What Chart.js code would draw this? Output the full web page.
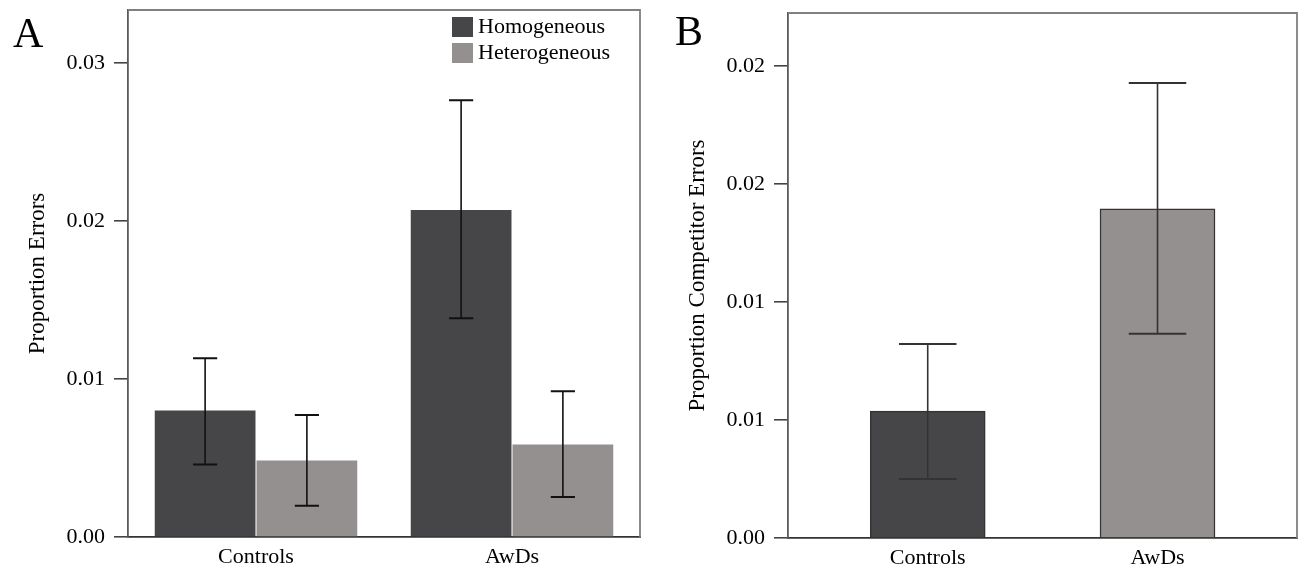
<!DOCTYPE html>
<html>
<head>
<meta charset="utf-8">
<script src="https://cdn.jsdelivr.net/npm/chart.js@4"></script>
<style>
  body { margin: 0; background: #fff; }
  .panel { position: absolute; top: 0; }
</style>
</head>
<body>
<div class="panel" style="left:0"><canvas id="chartA" width="660" height="569"></canvas></div>
<div class="panel" style="left:660px"><canvas id="chartB" width="638" height="569"></canvas></div>
<script>
// --- data, panel A ---
const groups = ['Controls', 'AwDs'];
const homogeneousMean = [0.0080, 0.0207];
const homogeneousLow = [0.00459, 0.01384];
const homogeneousHigh = [0.01131, 0.02764];
const heterogeneousMean = [0.00484, 0.00585];
const heterogeneousLow = [0.00198, 0.00253];
const heterogeneousHigh = [0.00773, 0.00923];
const yTicksA = [0, 0.01, 0.02, 0.03];
const yTickLabelsA = ['0.00', '0.01', '0.02', '0.03'];
const yMaxA = 0.03336;

// --- data, panel B ---
const competitorMean = [0.00538, 0.01395];
const competitorLow = [0.00250, 0.00866];
const competitorHigh = [0.00822, 0.01928];
const yTicksB = [0, 0.005, 0.01, 0.015, 0.02];
const yTickLabelsB = ['0.00', '0.01', '0.01', '0.02', '0.02'];
const yMaxB = 0.02225;
const xMinB = -0.608, xMaxB = 1.607;

const DARK = 'rgb(70,70,72)';
const LIGHT = 'rgb(148,144,143)';
const SERIF = '"Liberation Serif", "Times New Roman", serif';
const tickFont = { family: SERIF, size: 22 };
const titleFont = { family: SERIF, size: 23 };

// error bars drawn from each dataset's low/high arrays
const errorBars = {
    id: 'errorBars',
    afterDatasetsDraw(chart, args, opts) {
        const ctx = chart.ctx;
        const y = chart.scales.y;
        chart.data.datasets.forEach((ds, di) => {
            const meta = chart.getDatasetMeta(di);
            meta.data.forEach((bar, i) => {
                const top = y.getPixelForValue(ds.errHigh[i]);
                const bot = y.getPixelForValue(ds.errLow[i]);
                const half = bar.width * opts.cap / 2;
                ctx.save();
                ctx.strokeStyle = opts.color;
                ctx.lineWidth = 1.6;
                ctx.beginPath();
                ctx.moveTo(bar.x, top); ctx.lineTo(bar.x, bot);
                ctx.stroke();
                ctx.lineWidth = 2;
                ctx.beginPath();
                ctx.moveTo(bar.x - half, top); ctx.lineTo(bar.x + half, top);
                ctx.moveTo(bar.x - half, bot); ctx.lineTo(bar.x + half, bot);
                ctx.stroke();
                ctx.restore();
            });
        });
    }
};

// top + right box edges and the panel letter
const frame = {
    id: 'frame',
    afterDraw(chart, args, opts) {
        const { left, right, top, bottom } = chart.chartArea;
        const ctx = chart.ctx;
        ctx.save();
        ctx.strokeStyle = '#808080';
        ctx.lineWidth = 1.8;
        ctx.beginPath();
        ctx.moveTo(left, top); ctx.lineTo(right, top); ctx.lineTo(right, bottom);
        ctx.stroke();
        ctx.fillStyle = '#000';
        ctx.font = '42px ' + SERIF;
        ctx.textBaseline = 'alphabetic';
        ctx.fillText(opts.letter, opts.letterX, opts.letterY);
        ctx.restore();
    }
};

// legend inside the plot, top right
const innerLegend = {
    id: 'innerLegend',
    afterDraw(chart) {
        const ctx = chart.ctx;
        const { right, top } = chart.chartArea;
        const x0 = right - 188;
        ctx.save();
        ctx.font = '22px ' + SERIF;
        ctx.textBaseline = 'middle';
        chart.data.datasets.forEach((ds, i) => {
            const y0 = top + 7 + i * 26;
            ctx.fillStyle = ds.backgroundColor;
            ctx.fillRect(x0, y0, 21, 20);
            ctx.fillStyle = '#000';
            ctx.fillText(ds.label, x0 + 26, y0 + 10);
        });
        ctx.restore();
    }
};

function yAxis(ticks, labels, max, title) {
    return {
        min: 0,
        max: max,
        afterBuildTicks: s => { s.ticks = ticks.map(v => ({ value: v })); },
        afterFit: s => { s.width = 128; s.paddingTop = 0; s.paddingBottom = 0; },
        ticks: { callback: (v, i) => labels[i], font: tickFont, color: '#000', padding: 9 },
        grid: { drawOnChartArea: false, drawTicks: true, tickLength: 14, color: '#444', lineWidth: 1.6 },
        border: { color: '#5a5a5a', width: 1.8 },
        title: { display: true, text: title, font: titleFont, color: '#000', padding: { top: 24, bottom: 0 } }
    };
}

// --- Panel A ---
new Chart(document.getElementById('chartA'), {
    type: 'bar',
    data: {
        labels: groups,
        datasets: [
            { label: 'Homogeneous', data: homogeneousMean, errLow: homogeneousLow, errHigh: homogeneousHigh,
              backgroundColor: DARK, categoryPercentage: 0.795, barPercentage: 0.99 },
            { label: 'Heterogeneous', data: heterogeneousMean, errLow: heterogeneousLow, errHigh: heterogeneousHigh,
              backgroundColor: LIGHT, categoryPercentage: 0.795, barPercentage: 0.99 }
        ]
    },
    options: {
        responsive: false,
        animation: false,
        layout: { padding: { left: 0, right: 20, top: 10, bottom: 0 } },
        scales: {
            x: {
                offset: true,
                grid: { display: false, drawTicks: false },
                border: { color: '#333', width: 1.8 },
                ticks: { font: tickFont, color: '#000', padding: 7 },
                afterFit: s => { s.height = 32; }
            },
            y: yAxis(yTicksA, yTickLabelsA, yMaxA, 'Proportion Errors')
        },
        plugins: {
            legend: { display: false },
            tooltip: { enabled: false },
            errorBars: { cap: 0.24, color: '#111' },
            frame: { letter: 'A', letterX: 13, letterY: 47 }
        }
    },
    plugins: [errorBars, frame, innerLegend]
});

// --- Panel B ---
new Chart(document.getElementById('chartB'), {
    type: 'bar',
    data: {
        datasets: [
            { label: 'Competitor', data: competitorMean.map((v, i) => ({ x: i, y: v })),
              errLow: competitorLow, errHigh: competitorHigh,
              backgroundColor: [DARK, LIGHT], borderColor: '#333', borderWidth: 1.5,
              barThickness: 115 }
        ]
    },
    options: {
        responsive: false,
        animation: false,
        layout: { padding: { left: 0, right: 1, top: 13, bottom: 0 } },
        scales: {
            x: {
                type: 'linear',
                offset: false,
                bounds: 'data',
                min: xMinB,
                max: xMaxB,
                afterBuildTicks: s => { s.ticks = groups.map((g, i) => ({ value: i })); },
                grid: { display: false, drawTicks: false, offset: false },
                border: { color: '#333', width: 1.8 },
                ticks: { callback: v => groups[v], font: tickFont, color: '#000', padding: 7 },
                afterFit: s => { s.height = 31; }
            },
            y: yAxis(yTicksB, yTickLabelsB, yMaxB, 'Proportion Competitor Errors')
        },
        plugins: {
            legend: { display: false },
            tooltip: { enabled: false },
            errorBars: { cap: 0.5, color: '#333' },
            frame: { letter: 'B', letterX: 15, letterY: 45 }
        }
    },
    plugins: [errorBars, frame]
});
</script>
</body>
</html>
